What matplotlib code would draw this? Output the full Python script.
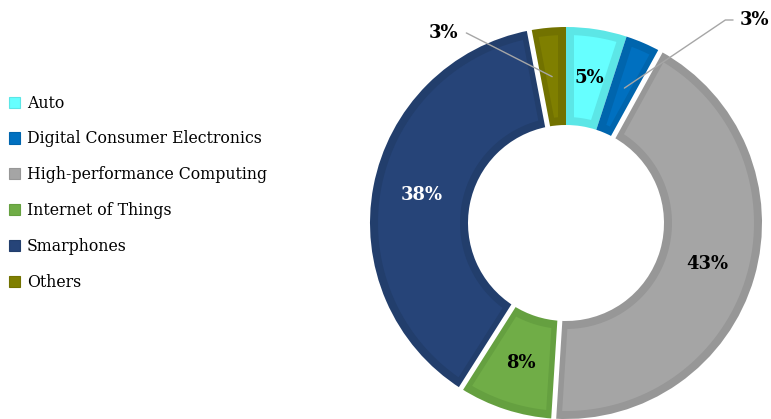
import numpy as np
import matplotlib.pyplot as plt
from matplotlib.patches import Patch, Polygon

categories = ['Auto', 'Digital Consumer Electronics', 'High-performance Computing',
              'Internet of Things', 'Smarphones', 'Others']
shares = [5, 3, 43, 8, 38, 3]
fill_colors = ['#66FFFF', '#0070C0', '#A5A5A5', '#70AD47', '#264478', '#7F7F00']
edge_colors = ['#5CE6E6', '#0065AD', '#979797', '#65A040', '#223E6C', '#727200']
label_colors = ['black', 'black', 'black', 'black', 'white', 'black']

plt.rcParams['font.family'] = 'DejaVu Serif'

fig = plt.figure(figsize=(7.71, 4.19), dpi=100)
ax = fig.add_axes([0, 0, 1, 1])

cx, cy = 566, 196
R = 196
ring = 98
border = 8


def inset_wedge(t1, t2, r_in, r_out, d):
    ro, ri = r_out - d, r_in + d
    do = np.degrees(np.arcsin(d / ro))
    di = np.degrees(np.arcsin(d / ri))
    ao = np.radians(np.linspace(t1 + do, t2 - do, 80))
    ai = np.radians(np.linspace(t2 - di, t1 + di, 80))
    xs = np.concatenate([cx + ro * np.cos(ao), cx + ri * np.cos(ai)])
    ys = np.concatenate([cy + ro * np.sin(ao), cy + ri * np.sin(ai)])
    return np.column_stack([xs, ys])


wedges, _ = ax.pie(shares, radius=R, center=(cx, cy), startangle=90,
                   counterclock=False, wedgeprops=dict(width=ring, lw=0))
for w, fc, ec in zip(wedges, fill_colors, edge_colors):
    w.set_facecolor(ec)
    pts = inset_wedge(w.theta1, w.theta2, w.r - w.width, w.r, border)
    ax.add_patch(Polygon(pts, closed=True, facecolor=fc, lw=0, zorder=2))

ax.set_xlim(0, 771)
ax.set_ylim(0, 419)
ax.set_aspect('equal')
ax.axis('off')

# white gaps between the big slices
total = sum(shares)
cum = np.cumsum(shares)
for k in [1, 2, 3, 4]:
    a = np.deg2rad(90 - cum[k] / total * 360)
    r0, r1 = R - ring - 4, R + 4
    ax.plot([cx + r0 * np.cos(a), cx + r1 * np.cos(a)],
            [cy + r0 * np.sin(a), cy + r1 * np.sin(a)],
            color='white', lw=3.6, solid_capstyle='butt', zorder=3)

# labels
rmid = R - ring / 2
starts = cum - np.array(shares)
for i, (s, v) in enumerate(zip(starts, shares)):
    a = np.deg2rad(90 - (s + v / 2) / total * 360)
    px, py = cx + rmid * np.cos(a), cy + rmid * np.sin(a)
    txt = f'{v}%'
    if i == 1:
        ax.annotate(txt, xy=(px, py), xytext=(740, 399), ha='left', va='center',
                    fontsize=13, fontweight='bold', color='black',
                    arrowprops=dict(arrowstyle='-', color='#A6A6A6', lw=1,
                                    connectionstyle='angle,angleA=0,angleB=34,rad=0',
                                    shrinkA=3, shrinkB=0), zorder=5)
    elif i == 5:
        ax.annotate(txt, xy=(px, py), xytext=(458, 386), ha='right', va='center',
                    fontsize=13, fontweight='bold', color='black',
                    arrowprops=dict(arrowstyle='-', color='#A6A6A6', lw=1,
                                    connectionstyle='angle,angleA=0,angleB=-27,rad=0',
                                    shrinkA=4, shrinkB=0), zorder=5)
    else:
        ax.text(px, py, txt, ha='center', va='center', fontsize=13,
                fontweight='bold', color=label_colors[i], zorder=5)

handles = [Patch(facecolor=fc, edgecolor=ec, lw=0.8) for fc, ec in zip(fill_colors, edge_colors)]
fig.legend(handles, categories, loc='center left', bbox_to_anchor=(-0.003, 0.54),
           frameon=False, fontsize=11.3, handlelength=0.72, handleheight=0.72,
           handletextpad=0.45, labelspacing=1.2, borderaxespad=0.3)

fig.savefig('out.png', dpi=100)
